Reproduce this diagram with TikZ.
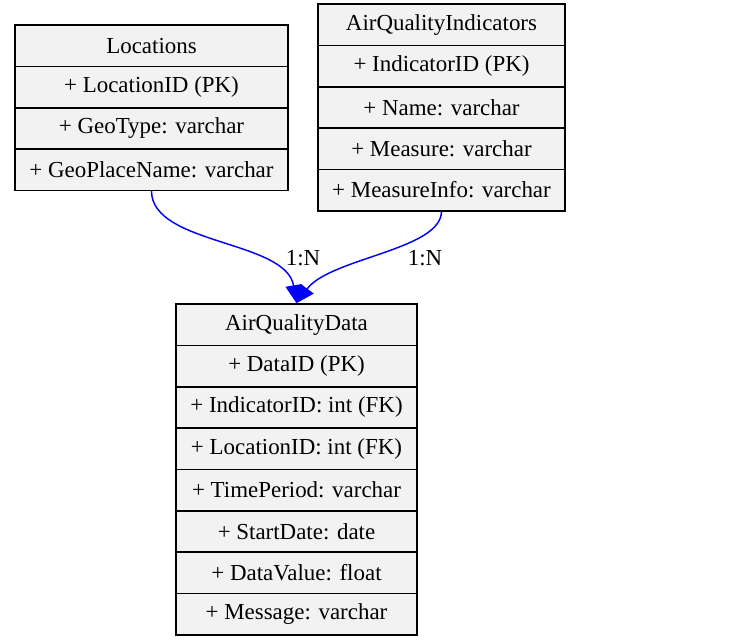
\documentclass[tikz,border=0pt]{standalone}
\usepackage{fontspec}
\setmainfont{Liberation Serif}
\usetikzlibrary{positioning, arrows.meta}
\definecolor{cRowFill}{HTML}{F2F2F2}
\definecolor{cLink}   {HTML}{0000FF}

\begin{document}
\begin{tikzpicture}[x=0.75pt, y=-0.75pt,
    tabrow/.style={draw=black, fill=cRowFill, line width=1.25pt,
                   minimum height=31pt, inner sep=0pt,
                   font=\fontsize{17.2}{19}\selectfont},
    link/.style={draw=cLink, line width=1.1pt,
                 -{Triangle[length=13.5pt, width=12pt]}},
    card/.style={font=\fontsize{17.2}{19}\selectfont}]
        \useasboundingbox (0,0) rectangle (751,641);
        % Locations
        \foreach \i/\txt in {0/Locations, 1/+ LocationID (PK),
                             2/+ GeoType: varchar, 3/+ GeoPlaceName: varchar}{
          \node[tabrow, minimum width=204.75pt]
                (loc\i) at (151.5, 45.7+41.333*\i) {\txt};
        }
        % AirQualityIndicators
        \foreach \i/\txt in {0/AirQualityIndicators, 1/+ IndicatorID (PK),
                             2/+ Name: varchar, 3/+ Measure: varchar,
                             4/+ MeasureInfo: varchar}{
          \node[tabrow, minimum width=185.25pt]
                (ind\i) at (441.5, 24.7+41.333*\i) {\txt};
        }
        % AirQualityData
        \foreach \i/\txt in {0/AirQualityData, 1/+ DataID (PK),
                             2/+ IndicatorID: int (FK), 3/+ LocationID: int (FK),
                             4/+ TimePeriod: varchar, 5/+ StartDate: date,
                             6/+ DataValue: float, 7/+ Message: varchar}{
          \node[tabrow, minimum width=180.75pt]
                (aqd\i) at (296.5, 324.7+41.333*\i) {\txt};
        }
        \draw[link] (loc3.south) .. controls (152,245) and (286,240) .. (aqd0.north);
        \draw[link] (ind4.south) .. controls (441,250) and (330,258) .. (aqd0.north);
        \node[card] (lblLoc) at (303,258) {1:N};
        \node[card] (lblInd) at (425,258) {1:N};
      \end{tikzpicture}
\end{document}
